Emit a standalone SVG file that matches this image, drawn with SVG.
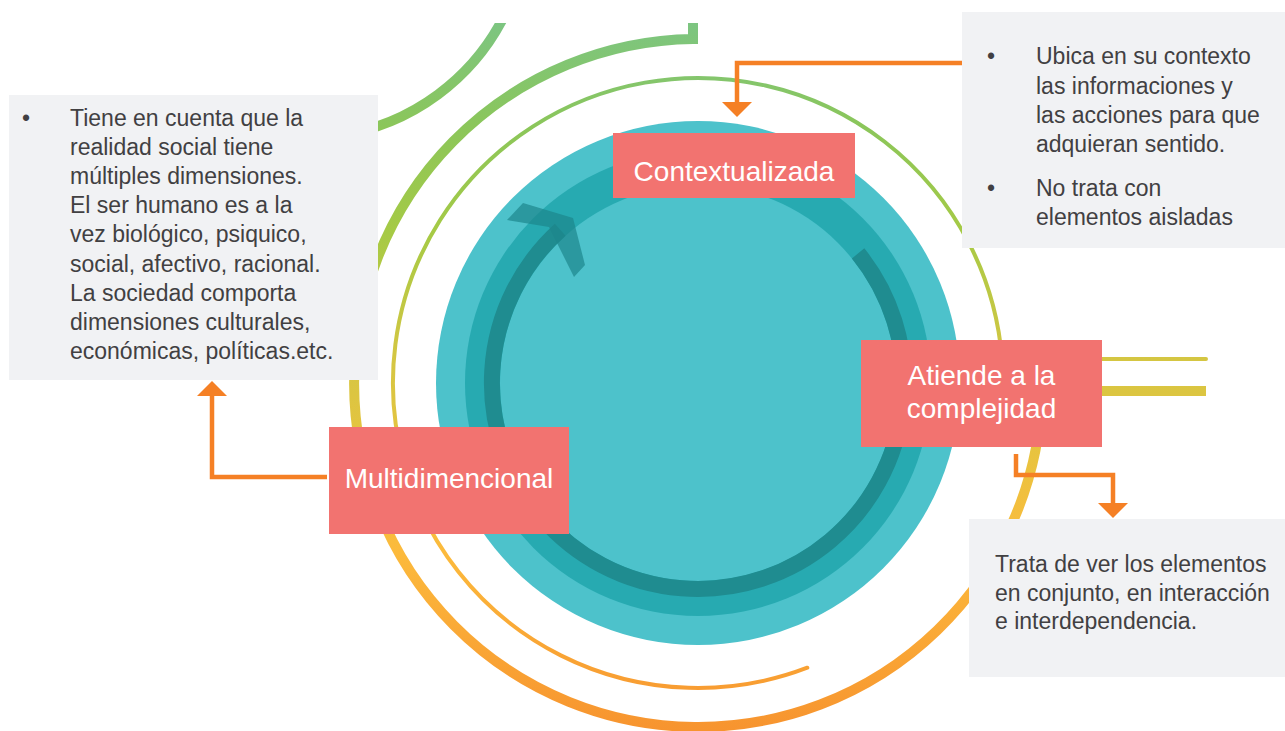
<svg xmlns="http://www.w3.org/2000/svg" width="1285" height="731" viewBox="0 0 1285 731">
  <style>
    .label { fill: #F27370; }
    .labtxt { font-family: "Liberation Sans", Arial, sans-serif; font-size: 28px; fill: #FFFFFF; text-anchor: middle; }
    .note { fill: #F1F2F4; }
    .body { font-family: "Liberation Sans", Arial, sans-serif; font-size: 23px; fill: #414042; }
    .arc { fill: none; stroke: url(#grad); }
    .conn { fill: none; stroke: #F58025; stroke-width: 4.5; marker-end: url(#arrow); }
  </style>
  <defs>
    <linearGradient id="grad" gradientUnits="userSpaceOnUse" x1="0" y1="20" x2="0" y2="730">
      <stop offset="0" stop-color="#7CC582"/>
      <stop offset="0.15" stop-color="#8BC65A"/>
      <stop offset="0.3" stop-color="#A6CA45"/>
      <stop offset="0.48" stop-color="#D5C642"/>
      <stop offset="0.62" stop-color="#EAC33F"/>
      <stop offset="0.75" stop-color="#FCBA3C"/>
      <stop offset="1" stop-color="#F7942F"/>
    </linearGradient>
    <clipPath id="topclip">
      <rect x="0" y="23" width="1285" height="708"/>
    </clipPath>
    <marker id="arrow" markerUnits="userSpaceOnUse" markerWidth="16" markerHeight="30" viewBox="0 0 16 30" refX="0" refY="15" orient="auto">
      <path d="M0,0 L15,15 L0,30 Z" fill="#F58025"/>
    </marker>
  </defs>

  <g id="decor">
    <path class="arc" stroke-width="10" clip-path="url(#topclip)" d="M507.2,9.8 A222,222 0 0 1 336.9,135.8"/>
    <path class="arc" stroke-width="10" stroke-linejoin="miter" d="M1206,391 L1042,391 A344,344 0 1 1 693,39 L693,23"/>
    <path class="arc" stroke-width="4" stroke-linecap="round" d="M1206,359 L1002,359 A305,305 0 1 0 807.3,667.7"/>
    <circle cx="698" cy="383" r="262" fill="#4DC2CB"/>
    <circle cx="698" cy="383" r="233" fill="#27AAB1"/>
    <circle cx="698" cy="383" r="198" fill="#4DC2CB"/>
    <path d="M858.1,253.4 A206,206 0 1 1 560.2,229.7" fill="none" stroke="#1F8C90" stroke-width="16"/>
    <polygon points="507,220 523,203 573,218 585,265 574,277 549,227" fill="#1D868B" fill-opacity="0.7"/>
  </g>

  <g id="connectors">
    <path class="conn" d="M962,63 H737 V102"/>
    <path class="conn" d="M1016,454 V475 H1113 V503"/>
    <path class="conn" d="M327,477 H212 V396"/>
  </g>

  <g id="note-multidimencional">
    <rect class="note" x="9" y="95" width="369" height="285"/>
    <text class="body" x="22" y="126">•</text>
    <text class="body" x="70" y="126">Tiene en cuenta que la</text>
    <text class="body" x="70" y="155">realidad social tiene</text>
    <text class="body" x="70" y="184">múltiples dimensiones.</text>
    <text class="body" x="70" y="213">El ser humano es a la</text>
    <text class="body" x="70" y="242">vez biológico, psiquico,</text>
    <text class="body" x="70" y="272">social, afectivo, racional.</text>
    <text class="body" x="70" y="301">La sociedad comporta</text>
    <text class="body" x="70" y="330">dimensiones culturales,</text>
    <text class="body" x="70" y="359">económicas, políticas.etc.</text>
  </g>

  <g id="note-contextualizada">
    <rect class="note" x="962" y="12" width="323" height="236"/>
    <text class="body" x="987" y="64">•</text>
    <text class="body" x="1036" y="64">Ubica en su contexto</text>
    <text class="body" x="1036" y="94">las informaciones y</text>
    <text class="body" x="1036" y="123">las acciones para que</text>
    <text class="body" x="1036" y="152">adquieran sentido.</text>
    <text class="body" x="987" y="196">•</text>
    <text class="body" x="1036" y="196">No trata con</text>
    <text class="body" x="1036" y="225">elementos aisladas</text>
  </g>

  <g id="note-complejidad">
    <rect class="note" x="969" y="519" width="316" height="158"/>
    <text class="body" x="995" y="572">Trata de ver los elementos</text>
    <text class="body" x="995" y="601">en conjunto, en interacción</text>
    <text class="body" x="995" y="629">e interdependencia.</text>
  </g>

  <g id="node-contextualizada">
    <rect class="label" x="613" y="133" width="242" height="65"/>
    <text class="labtxt" x="734" y="181">Contextualizada</text>
  </g>

  <g id="node-complejidad">
    <rect class="label" x="861" y="340" width="241" height="107"/>
    <text class="labtxt" x="981.5" y="385">Atiende a la</text>
    <text class="labtxt" x="981.5" y="418">complejidad</text>
  </g>

  <g id="node-multidimencional">
    <rect class="label" x="329" y="427" width="240" height="107"/>
    <text class="labtxt" x="449" y="488">Multidimencional</text>
  </g>
</svg>
